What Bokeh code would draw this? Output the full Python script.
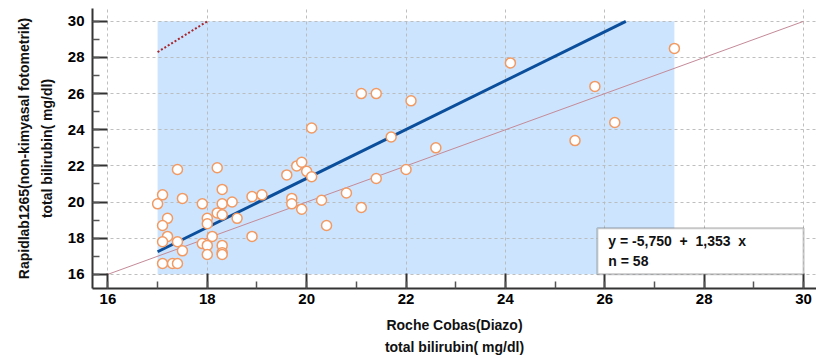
from bokeh.plotting import figure
from bokeh.models import (Range1d, SingleIntervalTicker, BoxAnnotation, Label,
                          ColumnDataSource)
from bokeh.embed import file_html
from bokeh.resources import INLINE

# Paired total bilirubin measurements (mg/dl)
roche_x = [17.0, 17.1, 17.4, 17.5, 17.2, 17.1, 17.2, 17.1, 17.4, 17.5,
           17.1, 17.3, 17.4, 17.9, 18.2, 18.3, 18.3, 18.2, 18.3, 18.0,
           18.0, 18.1, 17.9, 18.0, 18.0, 18.3, 18.3, 18.3, 18.5, 18.6,
           18.9, 19.1, 18.9, 19.6, 19.8, 19.9, 20.0, 20.1, 19.7, 19.7,
           19.9, 20.3, 20.4, 20.8, 21.1, 21.4, 21.1, 21.4, 22.1, 20.1,
           21.7, 22.6, 22.0, 24.1, 27.4, 25.8, 26.2, 25.4]
rapidlab_y = [19.9, 20.4, 21.8, 20.2, 19.1, 18.7, 18.1, 17.8, 17.8, 17.3,
              16.6, 16.6, 16.6, 19.9, 21.9, 20.7, 19.9, 19.4, 19.3, 19.1,
              18.8, 18.1, 17.7, 17.6, 17.1, 17.6, 17.2, 17.1, 20.0, 19.1,
              20.3, 20.4, 18.1, 21.5, 22.0, 22.2, 21.7, 21.4, 20.2, 19.9,
              19.6, 20.1, 18.7, 20.5, 19.7, 21.3, 26.0, 26.0, 25.6, 24.1,
              23.6, 23.0, 21.8, 27.7, 28.5, 26.4, 24.4, 23.4]

# Regression equation shown in the legend box
intercept = -5.750
slope = 1.353
n_obs = len(roche_x)

# Axis ticks
x_ticks = [16, 18, 20, 22, 24, 26, 28, 30]
y_ticks = [16, 18, 20, 22, 24, 26, 28, 30]

# Upper confidence limit segment visible in the corner
upper_limit_x = [17.0, 18.0]
upper_limit_y = [28.3, 30.0]

FONT = "Liberation Sans"
NBSP2 = "\u00a0\u00a0"

p = figure(width=816, height=363, output_backend="svg", toolbar_location=None,
           x_range=Range1d(15.69, 30.26), y_range=Range1d(15.216, 30.71),
           min_border_left=92, min_border_right=0, min_border_top=8,
           min_border_bottom=75)
p.outline_line_color = None
p.background_fill_color = "white"

# Shaded measurement range of the x method
shade = BoxAnnotation(left=min(roche_x), right=max(roche_x),
                      bottom=y_ticks[0], top=y_ticks[-1],
                      fill_color="#cce4fd", fill_alpha=1.0, line_color=None,
                      level="image")
p.add_layout(shade)

# Axes
for ax in (p.xaxis[0], p.yaxis[0]):
    ax.ticker = SingleIntervalTicker(interval=2, num_minor_ticks=2)
    ax.axis_line_color = "#333333"
    ax.axis_line_width = 2
    ax.major_tick_line_color = "#333333"
    ax.major_tick_line_width = 2
    ax.major_tick_in = 15
    ax.major_tick_out = 0
    ax.minor_tick_line_color = "#555555"
    ax.minor_tick_line_width = 1.5
    ax.minor_tick_in = 7
    ax.minor_tick_out = 0
    ax.major_label_text_font = FONT
    ax.major_label_text_font_style = "bold"
    ax.major_label_text_font_size = "15px"
    ax.major_label_text_color = "#000000"
    ax.axis_label_text_font = FONT
    ax.axis_label_text_font_style = "bold"
    ax.axis_label_text_font_size = "14px"
    ax.axis_label_text_color = "#111111"
    ax.axis_label_text_line_height = 1.4

p.xaxis.axis_label = "Roche Cobas(Diazo)\ntotal bilirubin( mg/dl)"
p.yaxis.axis_label = "Rapidlab1265(non-kimyasal fotometrik)\ntotal bilirubin( mg/dl)"
p.xaxis.major_label_standoff = 5
p.xaxis.axis_label_standoff = 10
p.yaxis.major_label_standoff = 8
p.yaxis.axis_label_standoff = 10

# Grid
p.grid.grid_line_color = "#b8b8b8"
p.grid.grid_line_dash = "3 3"
p.grid.grid_line_width = 1
p.grid.grid_line_alpha = 0.9

# Identity line y = x
p.line([x_ticks[0], x_ticks[-1]], [y_ticks[0], y_ticks[-1]],
       line_color="#c48a98", line_width=1)

# Regression line, from the smallest x until it reaches the top of the scale
x_start = min(roche_x)
x_end = min(max(roche_x), (y_ticks[-1] - intercept) / slope)
p.line([x_start, x_end], [intercept + slope * x_start, intercept + slope * x_end],
       line_color="#0b4f9c", line_width=3)

# Upper limit segment
p.line(upper_limit_x, upper_limit_y, line_color="#a8262c", line_width=2,
       line_dash="2 2")

# Observations
src = ColumnDataSource(dict(x=roche_x, y=rapidlab_y))
p.scatter("x", "y", source=src, size=10, fill_color="white",
          line_color="#f29a63", line_width=1.5)

# Legend box with the regression equation
box = BoxAnnotation(left=25.85, right=x_ticks[-1], bottom=y_ticks[0], top=18.55,
                    fill_color="white", fill_alpha=1.0, line_color="#444444",
                    line_width=2)
p.add_layout(box)

eq_text = (f"y = {intercept:.3f}{NBSP2}+{NBSP2}{slope:.3f}{NBSP2}x"
           .replace(".", ","))
p.add_layout(Label(x=25.85, y=18.55, x_offset=11, y_offset=-5,
                   text=eq_text, text_baseline="top", text_font=FONT,
                   text_font_style="bold", text_font_size="14px",
                   text_color="#111111"))
p.add_layout(Label(x=25.85, y=18.55, x_offset=11, y_offset=-25,
                   text=f"n = {n_obs}", text_baseline="top", text_font=FONT,
                   text_font_style="bold", text_font_size="14px",
                   text_color="#111111"))

open("out.html", "w").write(file_html(p, INLINE))
